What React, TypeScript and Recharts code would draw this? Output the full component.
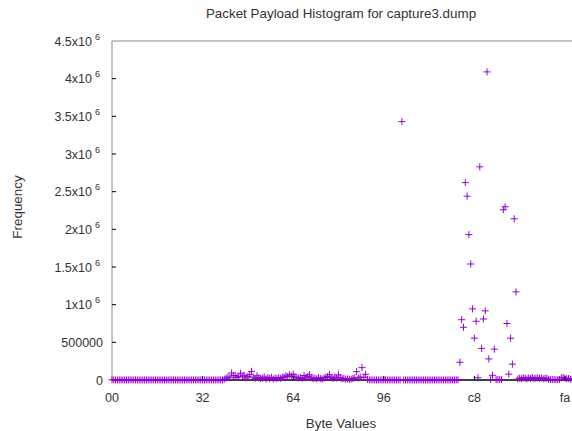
import React from 'react';
import { ScatterChart, Scatter, XAxis, YAxis, ReferenceLine } from 'recharts';

// byte value -> number of occurrences (index = byte)
const counts = [
  3000, 1500, 800, 1200, 600, 900, 1100, 700, 1300, 1000, 2500, 800, 600, 1900, 700, 900,
  800, 600, 1000, 700, 500, 900, 600, 800, 1100, 700, 500, 600, 800, 1200, 700, 600,
  900, 1500, 700, 600, 800, 1000, 600, 700, 900, 500, 800, 600, 700, 1000, 1800, 900,
  1200, 800, 700, 600, 1000, 900, 700, 800, 600, 1100, 700, 900, 1500, 2000, 12000, 25000,
  40000, 30000, 93000, 55000, 60000, 35000, 48000, 90000, 40000, 62000, 28000, 45000, 70000, 115000, 38000, 22000,
  55000, 30000, 18000, 25000, 40000, 15000, 30000, 20000, 35000, 12000, 28000, 18000, 30000, 22000, 35000, 40000,
  55000, 45000, 68000, 50000, 76000, 40000, 30000, 25000, 35000, 20000, 60000, 28000, 45000, 70000, 30000, 18000,
  25000, 15000, 30000, 20000, 12000, 25000, 35000, 45000, 70000, 30000, 20000, 40000, 25000, 68000, 30000, 15000,
  20000, 10000, 15000, 8000, 12000, 20000, 30000, 110000, 25000, 40000, 164000, 35000, 76000, 8000, 3000, 2000,
  1500, 1000, 1200, 800, 1000, 900, 1100, 800, 700, 900, 1000, 800, 600, 900, 1200, 1000,
  3430000, 1200, 900, 800, 1000, 700, 900, 1100, 800, 600, 900, 700, 1000, 800, 600, 900,
  700, 800, 1000, 600, 900, 1100, 700, 800, 600, 1000, 900, 700, 1200, 1500, 2000, 3000,
  235000, 800000, 700000, 2620000, 2440000, 1930000, 1540000, 944000, 555000, 780000, 30000, 2830000, 420000, 810000, 918000, 4090000,
  280000, 6000, 62000, 410000, 5000, 8000, 4000, 6000, 2260000, 2300000, 750000, 78000, 555000, 210000, 2140000, 1170000,
  12000, 25000, 18000, 30000, 22000, 15000, 28000, 20000, 35000, 18000, 25000, 30000, 20000, 28000, 15000, 22000,
  25000, 8000, 5000, 4000, 6000, 5000, 3000, 8000, 30000, 35000, 25000, 15000, 20000, 10000, 8000, 12000,
];

const xTicks = [0, 50, 100, 150, 200, 250];
const xTickLabels = ['00', '32', '64', '96', 'c8', 'fa'];
const yTicks = [0, 500000, 1000000, 1500000, 2000000, 2500000, 3000000, 3500000, 4000000, 4500000];

const data = counts.map((count, i) => ({ byte: i, count }));

const PLOT_LEFT = 112;
const PLOT_RIGHT = 574;
const PLOT_TOP = 41;
const PLOT_BOTTOM = 380;
const TEXT = '#333';
const FONT = 12.5;
const LABEL_FONT = 13.4;
const MARK = '#9400d3';

const PlusMark = (props: any) => {
  const { cx, cy } = props;
  if (cx == null || cy == null) return null;
  return (
    <g>
      <line x1={cx - 3.5} y1={cy} x2={cx + 3.5} y2={cy} stroke={MARK} strokeWidth={1} />
      <line x1={cx} y1={cy - 3.5} x2={cx} y2={cy + 3.5} stroke={MARK} strokeWidth={1} />
    </g>
  );
};

const LeftTick = (props: any) => {
  const { y, payload } = props;
  const v = payload.value as number;
  let label: React.ReactNode;
  if (v === 0 || v === 500000) {
    label = (
      <text x={PLOT_LEFT - 9} y={y} dy={4.5} textAnchor="end" fill={TEXT} fontSize={FONT}>
        {v}
      </text>
    );
  } else {
    const m = v / 1000000;
    label = (
      <text x={PLOT_LEFT - 12} y={y} dy={4.5} textAnchor="end" fill={TEXT} fontSize={FONT}>
        {m}x10
        <tspan fontSize={9} dx={3} dy={-6}>6</tspan>
      </text>
    );
  }
  return (
    <g>
      {v !== 0 && v !== 4500000 && (
        <line x1={PLOT_LEFT} y1={y} x2={PLOT_LEFT + 4} y2={y} stroke="#000" />
      )}
      {label}
    </g>
  );
};

const RightTick = (props: any) => {
  const { y, payload } = props;
  if (payload.value === 0 || payload.value === 4500000) return null;
  return <line x1={PLOT_RIGHT - 4} y1={y} x2={PLOT_RIGHT} y2={y} stroke="#000" />;
};

const BottomTick = (props: any) => {
  const { x, payload } = props;
  const i = xTicks.indexOf(payload.value);
  return (
    <g>
      {payload.value !== 0 && (
        <line x1={x} y1={PLOT_BOTTOM} x2={x} y2={PLOT_BOTTOM - 4} stroke="#000" />
      )}
      <text x={x} y={PLOT_BOTTOM + 22} textAnchor="middle" fill={TEXT} fontSize={FONT}>
        {xTickLabels[i]}
      </text>
    </g>
  );
};

const TopTick = (props: any) => {
  const { x, payload } = props;
  if (payload.value === 0) return null;
  return <line x1={x} y1={PLOT_TOP} x2={x} y2={PLOT_TOP + 4} stroke="#000" />;
};

export default function App() {
  return (
    <div
      style={{
        position: 'absolute',
        left: 0,
        top: 0,
        width: 572,
        height: 431,
        overflow: 'hidden',
        background: '#fff',
        fontFamily: '"Liberation Sans", Arial, sans-serif',
      }}
    >
      <div
        style={{
          position: 'absolute',
          left: 141,
          width: 400,
          top: 6,
          textAlign: 'center',
          fontSize: LABEL_FONT,
          color: TEXT,
        }}
      >
        Packet Payload Histogram for capture3.dump
      </div>
      <ScatterChart width={576} height={431} margin={{ top: 0, right: 0, bottom: 0, left: 0 }}>
        <XAxis
          xAxisId="top"
          orientation="top"
          type="number"
          dataKey="byte"
          domain={[0, 255]}
          ticks={xTicks}
          height={PLOT_TOP}
          axisLine={{ stroke: '#8c8c8c' }}
          tickLine={false}
          tick={<TopTick />}
          interval={0}
        />
        <XAxis
          type="number"
          dataKey="byte"
          domain={[0, 255]}
          ticks={xTicks}
          height={431 - PLOT_BOTTOM}
          axisLine={{ stroke: '#000' }}
          tickLine={false}
          tick={<BottomTick />}
          interval={0}
          label={{
            content: () => (
              <text x={341} y={428} textAnchor="middle" fill={TEXT} fontSize={LABEL_FONT}>
                Byte Values
              </text>
            ),
          }}
        />
        <YAxis
          type="number"
          dataKey="count"
          domain={[0, 4500000]}
          ticks={yTicks}
          width={PLOT_LEFT}
          axisLine={{ stroke: '#8c8c8c' }}
          tickLine={false}
          tick={<LeftTick />}
          interval={0}
          label={{
            content: () => (
              <text
                x={22}
                y={207}
                transform="rotate(-90 22 207)"
                textAnchor="middle"
                fill={TEXT}
                fontSize={LABEL_FONT}
              >
                Frequency
              </text>
            ),
          }}
        />
        <YAxis
          yAxisId="right"
          orientation="right"
          type="number"
          domain={[0, 4500000]}
          ticks={yTicks}
          width={576 - PLOT_RIGHT}
          axisLine={{ stroke: '#8c8c8c' }}
          tickLine={false}
          tick={<RightTick />}
          interval={0}
        />
        <Scatter data={data} isAnimationActive={false} shape={<PlusMark />} />
        <ReferenceLine y={0} stroke="#000" strokeWidth={1} />
      </ScatterChart>
    </div>
  );
}
